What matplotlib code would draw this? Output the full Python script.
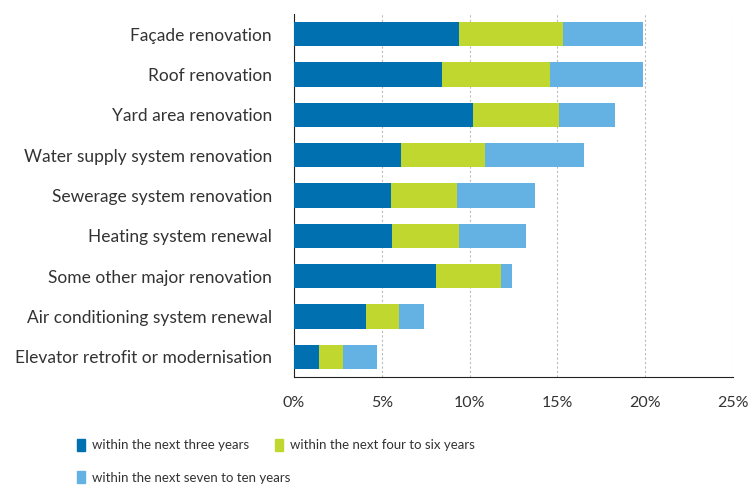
import matplotlib
matplotlib.use("Agg")
import matplotlib.pyplot as plt
from matplotlib.patches import Patch
import numpy as np

categories = ["Façade renovation", "Roof renovation", "Yard area renovation",
              "Water supply system renovation", "Sewerage system renovation",
              "Heating system renewal", "Some other major renovation",
              "Air conditioning system renewal", "Elevator retrofit or modernisation"]
series_names = ["within the next three years", "within the next four to six years",
                "within the next seven to ten years"]
three_years = [9.4, 8.4, 10.2, 6.1, 5.5, 5.6, 8.1, 4.1, 1.4]
four_six_years = [5.9, 6.2, 4.9, 4.8, 3.8, 3.8, 3.7, 1.9, 1.4]
seven_ten_years = [4.6, 5.3, 3.2, 5.6, 4.4, 3.8, 0.6, 1.4, 1.9]
xticks = [0, 5, 10, 15, 20, 25]
xticklabels = ["0%", "5%", "10%", "15%", "20%", "25%"]

colors = ["#0070B0", "#C0D72F", "#64B1E4"]

plt.rcParams['font.family'] = ['Lato', 'DejaVu Sans']
fig = plt.figure(figsize=(7.52, 4.86), dpi=100)
ax = fig.add_axes([294/752, 1 - 377/486, (733-294)/752, (377-14)/486])

y = np.arange(len(categories))
left = np.zeros(len(categories))
handles = []
for vals, c, name in zip([three_years, four_six_years, seven_ten_years], colors, series_names):
    ax.barh(y, vals, left=left, height=0.6, color=c, label=name, zorder=3)
    left = left + np.array(vals)
    handles.append(Patch(color=c, label=name))

ax.set_ylim(len(categories) - 0.5, -0.5)
ax.set_xlim(0, 25)
ax.set_yticks(y)
ax.set_yticklabels(categories, fontsize=12.5, color="#333333")
ax.set_xticks(xticks)
ax.set_xticklabels(xticklabels, fontsize=11.5, color="#333333")
ax.tick_params(axis='both', length=0)
ax.tick_params(axis='y', pad=16)
ax.tick_params(axis='x', pad=14)
ax.xaxis.grid(True, linestyle=(0, (2, 2)), color="#BBBBBB", linewidth=0.8, zorder=0)
ax.set_axisbelow(True)
for s in ["top", "right"]:
    ax.spines[s].set_visible(False)
ax.spines["left"].set_color("#222222")
ax.spines["bottom"].set_color("#222222")

order = [handles[0], handles[2], handles[1]]
fig.legend(handles=order, labels=[h.get_label() for h in order], ncol=2,
           loc="upper left", bbox_to_anchor=(65/752, 1 - 427/486), frameon=False,
           handlelength=0.65, handleheight=1.0, handletextpad=0.5,
           columnspacing=-1.2, labelspacing=1.5, fontsize=9.5,
           labelcolor="#333333")

fig.savefig("out.png", dpi=100)
